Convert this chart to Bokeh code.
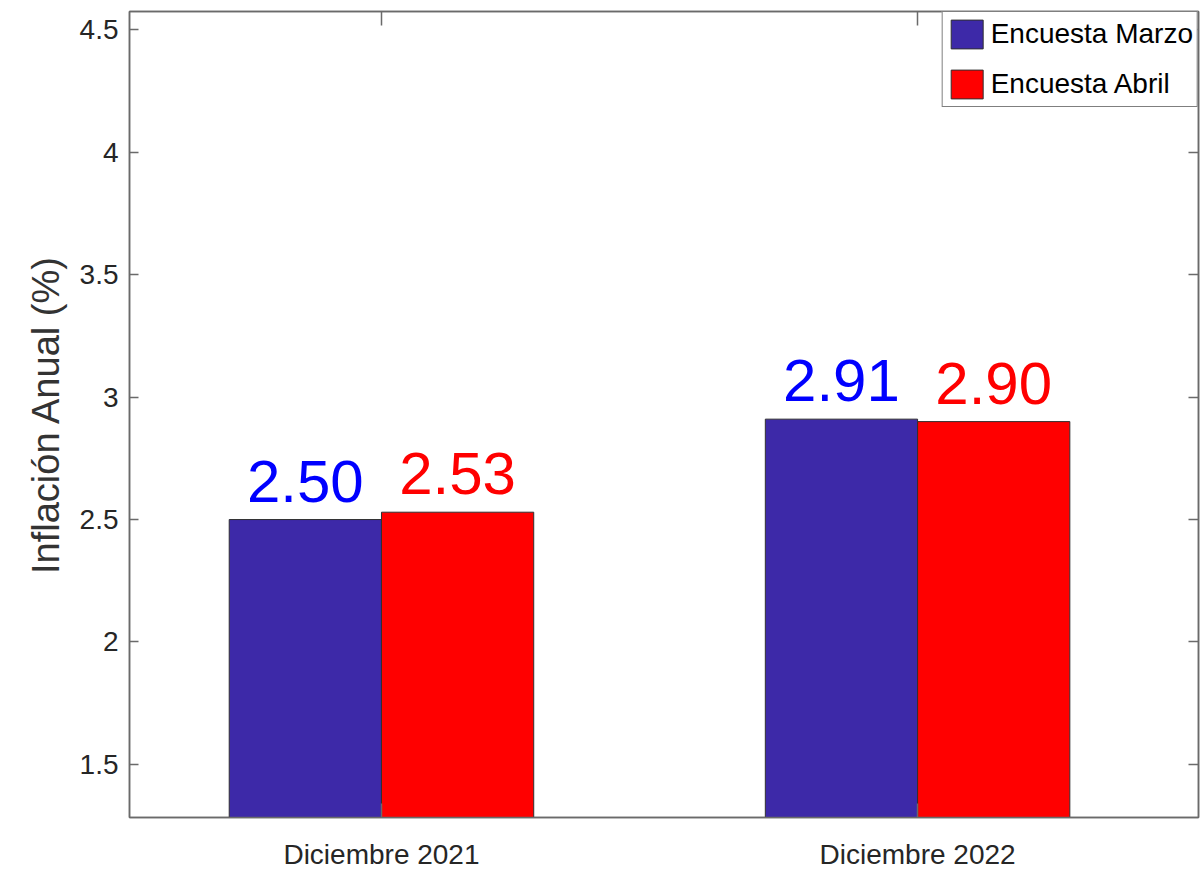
from bokeh.plotting import figure
from bokeh.models import (ColumnDataSource, Range1d, FixedTicker, LinearAxis,
                          LabelSet, Legend, LegendItem)
from bokeh.core.properties import value
from bokeh.transform import dodge
from bokeh.embed import file_html
from bokeh.resources import INLINE

# ---- data ----
categories = ["Diciembre 2021", "Diciembre 2022"]
marzo = [2.50, 2.91]
abril = [2.53, 2.90]
series_names = ["Encuesta Marzo", "Encuesta Abril"]
yticks = [1.5, 2, 2.5, 3, 3.5, 4, 4.5]
ytick_labels = ["1.5", "2", "2.5", "3", "3.5", "4", "4.5"]

xpos = list(range(1, len(categories) + 1))
src = ColumnDataSource(dict(
    x=xpos, cat=categories, marzo=marzo, abril=abril,
    marzo_lbl=[f"{v:.2f}" for v in marzo],
    abril_lbl=[f"{v:.2f}" for v in abril],
))

FONT = "Liberation Sans"
AX = "#6a6a6a"
TXT = "#262626"
BLUE = "#3D29A8"
RED = "#FF0000"
BW = 0.284

p = figure(width=1200, height=874, output_backend="svg", toolbar_location=None,
           x_range=Range1d(0.53, 2.524), y_range=Range1d(1.283, 4.575),
           min_border_left=129, min_border_right=2, min_border_top=11,
           min_border_bottom=57, x_axis_location=None, y_axis_location=None)
p.xgrid.visible = False
p.ygrid.visible = False
p.outline_line_color = AX
p.outline_line_width = 1.5
p.background_fill_color = "white"
p.border_fill_color = "white"

r1 = p.vbar(x=dodge("x", -BW / 2, range=p.x_range), top="marzo", bottom=0, width=BW,
            source=src, fill_color=BLUE, line_color="#303030", line_width=1)
r2 = p.vbar(x=dodge("x", BW / 2, range=p.x_range), top="abril", bottom=0, width=BW,
            source=src, fill_color=RED, line_color="#303030", line_width=1)

# value labels
p.add_layout(LabelSet(x=dodge("x", -BW / 2, range=p.x_range), y="marzo", text="marzo_lbl",
                      source=src, y_offset=18, text_align="center",
                      text_baseline="alphabetic", text_color="#0000FF",
                      text_font=value(FONT), text_font_size="60px"))
p.add_layout(LabelSet(x=dodge("x", BW / 2, range=p.x_range), y="abril", text="abril_lbl",
                      source=src, y_offset=18, text_align="center",
                      text_baseline="alphabetic", text_color=RED,
                      text_font=value(FONT), text_font_size="60px"))

# axes
def style(ax, tick_len):
    ax.axis_line_color = AX
    ax.axis_line_width = 1.5
    ax.major_tick_line_color = AX
    ax.major_tick_line_width = 1.5
    ax.major_tick_in = tick_len
    ax.major_tick_out = 0
    ax.minor_tick_line_color = None
    ax.major_label_text_color = TXT
    ax.major_label_text_font = FONT

xb = LinearAxis(ticker=FixedTicker(ticks=xpos),
                major_label_overrides={x: c for x, c in zip(xpos, categories)})
style(xb, 14)
xb.major_label_text_font_size = "28px"
xb.major_label_standoff = 21
p.add_layout(xb, "below")

xt = LinearAxis(ticker=FixedTicker(ticks=xpos),
                major_label_overrides={x: "" for x in xpos})
style(xt, 14)
xt.major_label_text_font_size = "0px"
xt.major_label_standoff = 0
p.add_layout(xt, "above")

yl = LinearAxis(ticker=FixedTicker(ticks=yticks),
                major_label_overrides={t: s for t, s in zip(yticks, ytick_labels)},
                axis_label="Inflación Anual (%)")
style(yl, 9)
yl.major_label_text_font_size = "28px"
yl.major_label_standoff = 11
yl.axis_label_text_font = FONT
yl.axis_label_text_font_style = "normal"
yl.axis_label_text_font_size = "38px"
yl.axis_label_text_color = "#333333"
yl.axis_label_standoff = 10
p.add_layout(yl, "left")

yr = LinearAxis(ticker=FixedTicker(ticks=yticks),
                major_label_overrides={t: "" for t in yticks})
style(yr, 10)
yr.major_label_text_font_size = "0px"
yr.major_label_standoff = 0
p.add_layout(yr, "right")

legend = Legend(items=[LegendItem(label=series_names[0], renderers=[r1]),
                       LegendItem(label=series_names[1], renderers=[r2])],
                location="top_right", margin=0, padding=4, spacing=14,
                glyph_width=40, glyph_height=36, label_standoff=4,
                label_text_font=FONT, label_text_font_size="28px",
                label_text_color="black", label_height=36,
                border_line_color="black", border_line_width=1,
                background_fill_color="white", background_fill_alpha=1)
p.add_layout(legend)

open("out.html", "w").write(file_html(p, INLINE))
